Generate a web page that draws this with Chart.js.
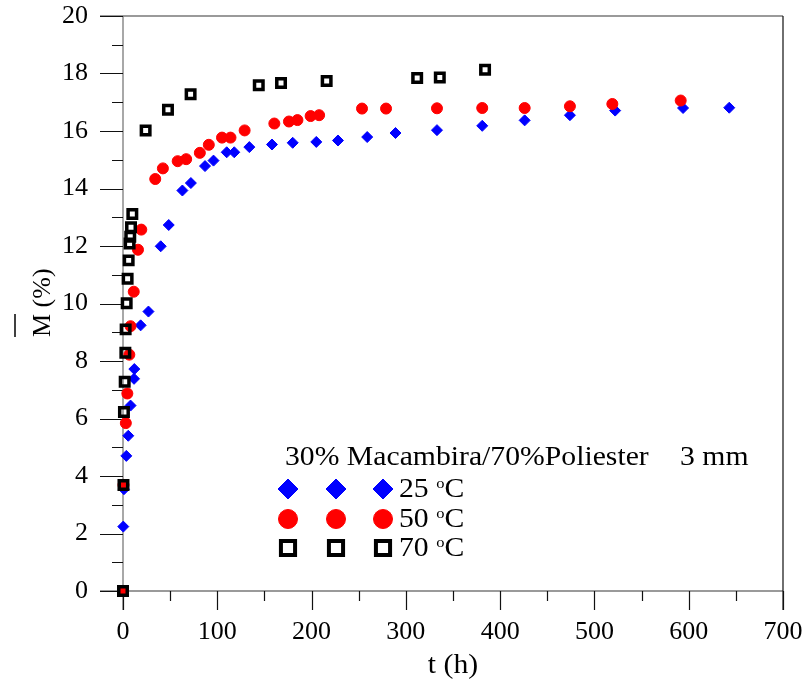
<!DOCTYPE html>
<html>
<head>
<meta charset="utf-8">
<script src="https://cdn.jsdelivr.net/npm/chart.js@4.4.1/dist/chart.umd.min.js"></script>
<style>
  body { margin: 0; background: #fff; }
  canvas { display: block; }
</style>
</head>
<body>
<canvas id="sorptionChart" width="809" height="683"></canvas>
<script>
// === DATA ===
const t25 = [0, 0.3, 1, 3.5, 5.6, 8, 11.7, 12, 18.7, 27, 40, 48.5, 63, 72, 87, 96, 110, 118, 134, 158, 180, 205, 228, 259, 289, 333, 381, 426, 474, 522, 594, 643];
const m25 = [0, 2.24, 3.54, 4.70, 5.40, 6.45, 7.38, 7.72, 9.24, 9.72, 11.99, 12.73, 13.93, 14.19, 14.78, 14.97, 15.26, 15.26, 15.44, 15.53, 15.59, 15.62, 15.67, 15.79, 15.93, 16.03, 16.18, 16.37, 16.55, 16.71, 16.80, 16.81];

const t50 = [0, 0.5, 3, 4.6, 6.7, 8, 11.4, 15.9, 19.4, 34.2, 42.3, 58, 67, 81.5, 91, 105, 114, 129, 160.5, 176, 185, 199, 208, 253.5, 279, 333, 381, 426, 474, 519, 591.5];
const m50 = [0, 3.69, 5.84, 6.87, 8.22, 9.21, 10.41, 11.87, 12.57, 14.33, 14.70, 14.95, 15.02, 15.24, 15.52, 15.77, 15.77, 16.02, 16.26, 16.33, 16.38, 16.52, 16.55, 16.78, 16.78, 16.79, 16.80, 16.80, 16.86, 16.94, 17.06];

const t70 = [0, 0.5, 1, 1.8, 2.5, 2.8, 3.9, 4.9, 6, 7, 7.7, 8.5, 9.9, 24, 47.7, 71.7, 144, 167.6, 216, 312, 336, 384];
const m70 = [0, 3.69, 6.23, 7.28, 8.29, 9.10, 10.01, 10.86, 11.50, 12.09, 12.32, 12.65, 13.11, 16.02, 16.74, 17.28, 17.59, 17.67, 17.74, 17.84, 17.86, 18.13];

const xTicks = [0, 100, 200, 300, 400, 500, 600, 700];
const yTicks = [0, 2, 4, 6, 8, 10, 12, 14, 16, 18, 20];
const seriesLabels = ['25', '50', '70'];
const legendTitle = '30% Macambira/70%Poliester';
const legendTitle2 = '3 mm';

const FONT = "'Liberation Serif', 'Times New Roman', serif";
const STRETCH = 1.1;   // the reference text is a little wide

const toPoints = (xs, ys) => xs.map((x, i) => ({ x, y: ys[i] }));

function stretchedText(ctx, str, x, y, size, align) {
    ctx.save();
    ctx.font = `${size}px ${FONT}`;
    ctx.textAlign = align || 'left';
    ctx.textBaseline = 'alphabetic';
    ctx.translate(x, y);
    ctx.scale(STRETCH, 1);
    ctx.fillText(str, 0, 0);
    const w = ctx.measureText(str).width * STRETCH;
    ctx.restore();
    return w;
}

// axis frame, major + minor ticks
const frameAndTicks = {
    id: 'frameAndTicks',
    beforeDatasetsDraw(chart) {
        const { ctx, chartArea: a, scales: { x, y } } = chart;
        ctx.save();
        ctx.lineWidth = 1.3;
        ctx.strokeStyle = '#7a7a7a';
        ctx.beginPath();
        ctx.moveTo(100, a.top); ctx.lineTo(a.right, a.top);
        ctx.moveTo(100, a.bottom); ctx.lineTo(a.right, a.bottom);
        ctx.moveTo(a.left, a.top); ctx.lineTo(a.left, a.bottom + 19);
        ctx.stroke();

        ctx.strokeStyle = '#111';
        ctx.lineWidth = 1.2;
        ctx.beginPath();
        ctx.moveTo(a.right, a.top); ctx.lineTo(a.right, a.bottom + 19);
        for (let v = 0; v <= 20; v++) {
            const py = Math.round(y.getPixelForValue(v)) + 0.5;
            ctx.moveTo(v % 2 === 0 ? a.left - 23 : a.left - 11, py);
            ctx.lineTo(a.left, py);
        }
        for (let v = 0; v <= 700; v += 50) {
            const px = Math.round(x.getPixelForValue(v)) + 0.5;
            ctx.moveTo(px, a.bottom);
            ctx.lineTo(px, a.bottom + (v % 100 === 0 ? 19 : 10));
        }
        ctx.stroke();
        ctx.restore();
    }
};

// axis titles + inset legend
const titlesAndLegend = {
    id: 'titlesAndLegend',
    afterDraw(chart) {
        const { ctx, chartArea: a } = chart;
        ctx.save();
        ctx.fillStyle = '#000';

        // y title: M with an overline, rotated
        ctx.save();
        ctx.translate(50, 337);
        ctx.rotate(-Math.PI / 2);
        ctx.font = `26px ${FONT}`;
        ctx.textBaseline = 'alphabetic';
        ctx.fillText('M (%)', 0, 0);
        const mw = ctx.measureText('M').width;
        ctx.strokeStyle = '#000';
        ctx.lineWidth = 1.5;
        ctx.beginPath();
        ctx.moveTo(0, -35); ctx.lineTo(mw, -35);
        ctx.stroke();
        ctx.restore();

        // x title
        stretchedText(ctx, 't (h)', (a.left + a.right) / 2, 673, 27, 'center');

        // legend
        stretchedText(ctx, legendTitle, 285, 465, 27);
        stretchedText(ctx, legendTitle2, 680, 465, 27);

        const rowsY = [489, 519, 548];
        const markX = [288, 336, 383];
        const legendMarks = [
            { pointStyle: 'rectRot', radius: 10, borderWidth: 1 },
            { pointStyle: 'circle', radius: 9.5, borderWidth: 1 },
            { pointStyle: 'rect', radius: 10, borderWidth: 4 }
        ];
        chart.data.datasets.forEach((ds, i) => {
            ctx.save();
            ctx.fillStyle = ds.backgroundColor;
            ctx.strokeStyle = ds.borderColor;
            ctx.lineWidth = legendMarks[i].borderWidth;
            markX.forEach(mx => {
                Chart.helpers.drawPoint(ctx, { ...legendMarks[i], rotation: 0 }, mx, rowsY[i]);
            });
            ctx.restore();

            const base = rowsY[i] + 8;
            let tx = 399;
            tx += stretchedText(ctx, seriesLabels[i] + ' ', tx, base, 27);
            tx += stretchedText(ctx, 'o', tx, base - 9, 15);
            stretchedText(ctx, 'C', tx, base, 27);
        });
        ctx.restore();
    }
};

const ctx = document.getElementById('sorptionChart').getContext('2d');
const chart = new Chart(ctx, {
    type: 'scatter',
    data: {
        datasets: [
            { label: '25 °C', data: toPoints(t25, m25), pointStyle: 'rectRot', pointRadius: 5.5, borderWidth: 1,
              backgroundColor: '#0000ff', borderColor: '#0000ff', order: 3, clip: false },
            { label: '50 °C', data: toPoints(t50, m50), pointStyle: 'circle', pointRadius: 5.5, borderWidth: 1,
              backgroundColor: '#ff0000', borderColor: '#ff0000', order: 2, clip: false },
            { label: '70 °C', data: toPoints(t70, m70), pointStyle: 'rect', pointRadius: 6, borderWidth: 3.5,
              backgroundColor: 'rgba(0,0,0,0)', borderColor: '#000000', order: 1, clip: false }
        ]
    },
    options: {
        responsive: false, animation: false,
        layout: { padding: { top: 16, right: 26, left: 0, bottom: 0 } },
        plugins: { legend: { display: false }, tooltip: { enabled: false } },
        scales: {
            x: {
                type: 'linear', min: xTicks[0], max: xTicks[xTicks.length - 1],
                afterBuildTicks: s => { s.ticks = xTicks.map(v => ({ value: v })); },
                afterFit: s => { s.height = 92; s.paddingLeft = 0; s.paddingRight = 0; },
                grid: { display: false, drawTicks: false },
                border: { display: false },
                ticks: { color: '#000', padding: 26, maxRotation: 0, font: { family: FONT, size: 26 } }
            },
            y: {
                type: 'linear', min: yTicks[0], max: yTicks[yTicks.length - 1],
                afterBuildTicks: s => { s.ticks = yTicks.map(v => ({ value: v })); },
                afterFit: s => { s.width = 123; s.paddingTop = 0; s.paddingBottom = 0; },
                grid: { display: false, drawTicks: false },
                border: { display: false },
                ticks: { color: '#000', padding: 35, font: { family: FONT, size: 26 } }
            }
        }
    },
    plugins: [frameAndTicks, titlesAndLegend]
});
</script>
</body>
</html>
